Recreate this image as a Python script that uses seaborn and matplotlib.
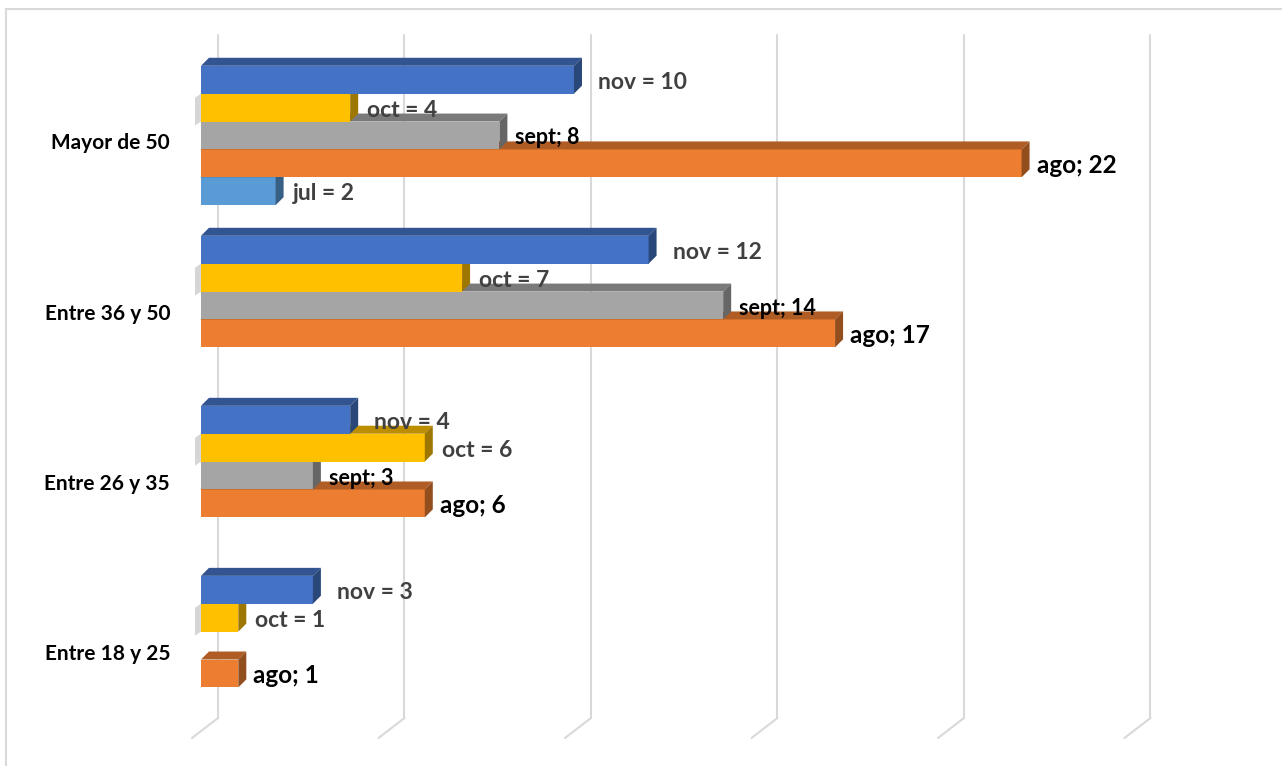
import numpy as np
import pandas as pd
import matplotlib
matplotlib.use("Agg")
from matplotlib import pyplot as plt
from matplotlib.patches import Polygon, Rectangle
from matplotlib.colors import to_rgb
from matplotlib import transforms
import seaborn as sns

grupos = ["Mayor de 50", "Entre 36 y 50", "Entre 26 y 35", "Entre 18 y 25"]
meses = ["nov", "oct", "sept", "ago", "jul"]
nov = [10, 12, 4, 3]
oct_ = [4, 7, 6, 1]
sept = [8, 14, 3, None]
ago = [22, 17, 6, 1]
jul = [2, None, None, None]
colores = ["#4472C4", "#FFC000", "#A5A5A5", "#ED7D31", "#5B9BD5"]

df = pd.DataFrame({
    "grupo": grupos * 5,
    "mes": np.repeat(meses, 4),
    "valor": nov + oct_ + sept + ago + jul,
}).dropna()

sns.set_style("white")
plt.rcParams["font.family"] = ["Lato", "DejaVu Sans"]

fig = plt.figure(figsize=(12.82, 7.66), dpi=100)
ax = fig.add_axes([201 / 1282, (766 - 718) / 766, 1063 / 1282, 683 / 766])
sns.barplot(data=df, y="grupo", x="valor", hue="mes", order=grupos, hue_order=meses,
            palette=colores, orient="h", width=0.82, dodge=True, legend=False,
            saturation=1, linewidth=0, ax=ax)

XMAX, YTOP, YBOT = 28.5, -0.591, 3.426
ax.set_xlim(0, XMAX)
ax.set_ylim(YBOT, YTOP)

# pixel -> data conversions
px_x = ax.bbox.width / XMAX
px_y = ax.bbox.height / (YBOT - YTOP)
dx, dy = 8 / px_x, 8 / px_y


def shade(c, f):
    r, g, b = to_rgb(c)
    return (r * f, g * f, b * f)


# label style per series: (format, colour, size, gap in px)
estilo = {
    "nov": ("{m} = {v}", "#404040", 16.5, 24),
    "oct": ("{m} = {v}", "#404040", 16.5, 17),
    "sept": ("{m}; {v}", "black", 15.5, 16),
    "ago": ("{m}; {v}", "black", 17.5, 15),
    "jul": ("{m} = {v}", "#404040", 16.5, 17),
}

# 3D-ish bars: top face + right face, upper bars drawn over lower ones
for k, (mes, cont) in enumerate(zip(meses, ax.containers)):
    z = 10 - k
    col = colores[k]
    fmt, color, size, gap = estilo[mes]
    for bar in cont:
        w = bar.get_width()
        if np.isnan(w):
            continue
        y0, h = bar.get_y(), bar.get_height()
        bar.set_zorder(z)
        top = Polygon([(0, y0), (dx, y0 - dy), (w + dx, y0 - dy), (w, y0)],
                      closed=True, fc=shade(col, 0.74), ec="none", zorder=z)
        side = Polygon([(w, y0), (w + dx, y0 - dy), (w + dx, y0 + h - dy), (w, y0 + h)],
                       closed=True, fc=shade(col, 0.62), ec="none", zorder=z)
        ax.add_patch(top)
        ax.add_patch(side)
        if mes == "oct":
            # faint wall sliver left of the yellow bars
            sx = 6 / px_x
            ax.add_patch(Polygon([(-sx, y0 + 4 / px_y), (0, y0), (0, y0 + h),
                                  (-sx, y0 + h + 4 / px_y)], closed=True,
                                 fc="#D6D6D6", ec="none", zorder=z, clip_on=False))

        ax.text(w + gap / px_x, y0 + h / 2 + 2.5 / px_y, fmt.format(m=mes, v=int(round(w))),
                ha="left", va="center", fontsize=size, fontweight="bold",
                color=color, zorder=20)

# back-wall gridlines with floor slant
for v in range(0, 30, 5):
    xb = v + 17 / px_x
    ax.plot([xb, xb], [YTOP, YBOT], color="#D9D9D9", lw=1.5, zorder=0.5, clip_on=False)
    ax.plot([xb, xb - 26 / px_x], [YBOT, YBOT + 20 / px_y], color="#D9D9D9",
            lw=1.5, zorder=0.5, clip_on=False)

ax.set_xticks([])
ax.set_yticks(range(len(grupos)))
ax.set_yticklabels(grupos, fontsize=15, fontweight="bold", color="black")
ax.tick_params(axis="y", length=0, pad=22.3)
for lbl in ax.get_yticklabels():
    lbl.set_transform(lbl.get_transform() + transforms.ScaledTranslation(0, -6 / 100, fig.dpi_scale_trans))
ax.set_xlabel("")
ax.set_ylabel("")
sns.despine(ax=ax, left=True, bottom=True)

fig.add_artist(Rectangle((6 / 1282, -0.1), 2, 0.1 + (766 - 9) / 766, transform=fig.transFigure,
                         fill=False, ec="#D9D9D9", lw=1.5))

fig.savefig("out.png", dpi=100)
